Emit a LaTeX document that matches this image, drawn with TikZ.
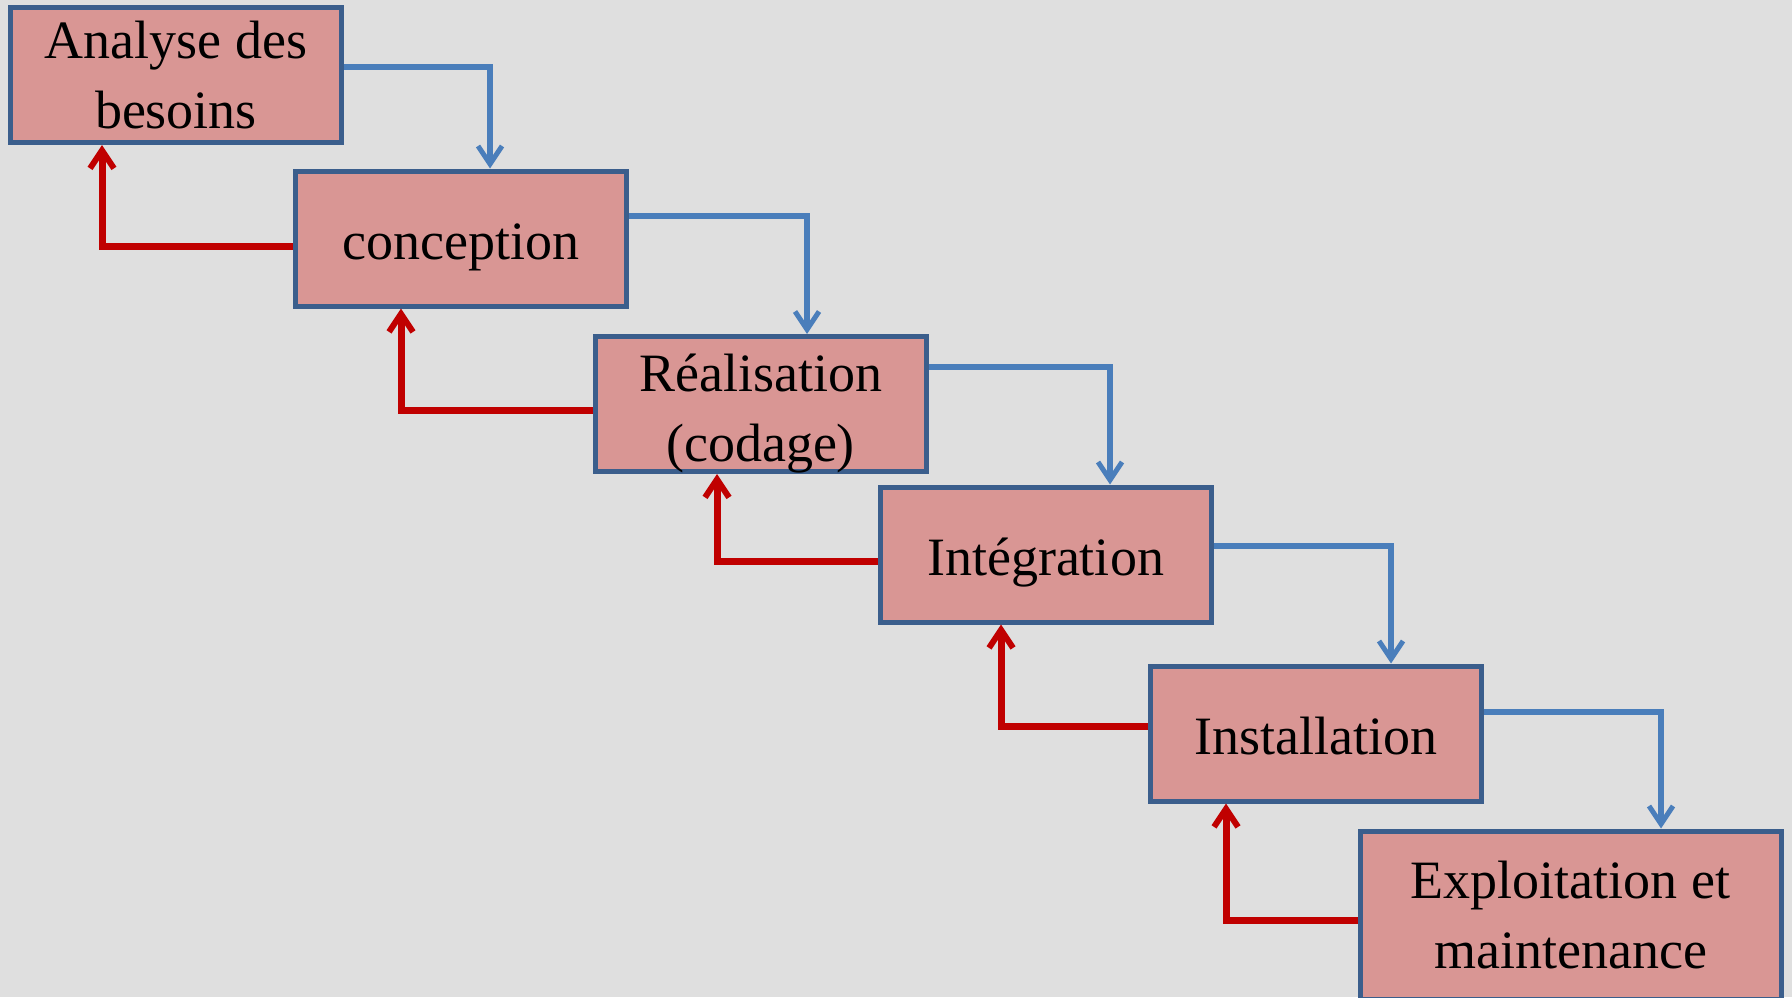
\documentclass[tikz,border=0pt]{standalone}
\usepackage{fontspec}
\setmainfont{Liberation Serif}
\usetikzlibrary{arrows.meta}
\definecolor{bgc}{HTML}{DFDFDF}
\definecolor{boxfill}{HTML}{D99694}
\definecolor{boxline}{HTML}{3B5E8C}
\definecolor{bluel}{HTML}{4A7EBB}
\definecolor{redl}{HTML}{C00000}
\newcommand{\oneline}[1]{\raisebox{-21pt}[0pt][0pt]{#1}}
\tikzset{
  stage/.style={draw=boxline, fill=boxfill, line width=5pt, inner sep=0pt,
    minimum width=331pt, minimum height=135pt, align=center,
    font=\fontsize{54}{70}\selectfont},
  fwd/.style={draw=bluel, line width=6pt, -{Straight Barb[length=18pt,width=24pt,line width=5pt]}},
  back/.style={draw=redl, line width=7pt, -{Straight Barb[length=18pt,width=24pt,line width=6pt]}}
}
\begin{document}
\begin{tikzpicture}[x=1pt,y=-1pt]
\fill[bgc] (0,0) rectangle (1792,997);
\useasboundingbox (0,0) rectangle (1792,997);
\node[stage] (b1) at (176,75) {Analyse des\\besoins};
\node[stage] (b2) at (461,238.5) {\oneline{conception}};
\node[stage] (b3) at (760.5,404) {\raisebox{-57pt}[0pt][0pt]{\begin{tabular}[b]{@{}c@{}}Réalisation\\(codage)\end{tabular}}};
\node[stage] (b4) at (1045.5,554.5) {\oneline{Intégration}};
\node[stage] (b5) at (1316,733.5) {\oneline{Installation}};
\node[stage, minimum width=421pt, minimum height=168pt] (b6) at (1570.5,915) {Exploitation et\\maintenance};
% forward (blue)
\draw[fwd] ([yshift=8pt]b1.east) -| ([xshift=29pt]b2.north);
\draw[fwd] ([yshift=22.5pt]b2.east) -| ([xshift=46.5pt]b3.north);
\draw[fwd] ([yshift=37pt]b3.east) -| ([xshift=64.5pt]b4.north);
\draw[fwd] ([yshift=8.5pt]b4.east) -| ([xshift=75pt]b5.north);
\draw[fwd] ([yshift=21.5pt]b5.east) -| ([xshift=90.5pt]b6.north);
% backward (red)
\draw[back] ([yshift=-7.5pt]b2.west) -| ([xshift=-74pt]b1.south);
\draw[back] ([yshift=-6pt]b3.west) -| ([xshift=-60pt]b2.south);
\draw[back] ([yshift=-6.5pt]b4.west) -| ([xshift=-43.5pt]b3.south);
\draw[back] ([yshift=7.5pt]b5.west) -| ([xshift=-44.5pt]b4.south);
\draw[back] ([yshift=-5pt]b6.west) -| ([xshift=-90pt]b5.south);
\end{tikzpicture}
\end{document}
